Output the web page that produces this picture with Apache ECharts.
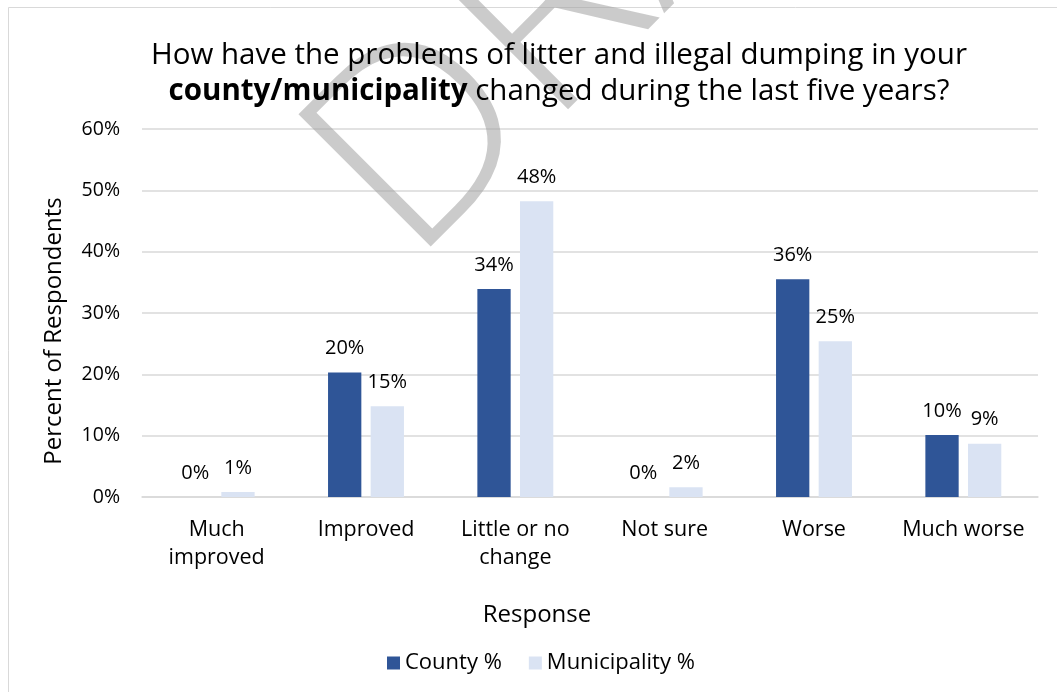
<!DOCTYPE html>
<html>
<head>
<meta charset="utf-8">
<script src="https://cdn.jsdelivr.net/npm/echarts@6/dist/echarts.min.js"></script>
<style>
html,body{margin:0;padding:0;background:#fff;}
#chart{width:1057px;height:692px;}
</style>
</head>
<body>
<div id="chart"></div>
<script>
const categories = ['Much\nimproved', 'Improved', 'Little or no\nchange', 'Not sure', 'Worse', 'Much worse'];
const countyValues = [0, 20.3, 33.9, 0, 35.5, 10.1];
const municipalityValues = [0.8, 14.8, 48.2, 1.6, 25.4, 8.7];
const seriesNames = ['County %', 'Municipality %'];
const yMin = 0, yMax = 60, yInterval = 10;

const FONT = '"Open Sans", "Noto Sans", sans-serif';
const chart = echarts.init(document.getElementById('chart'), null, {renderer: 'canvas'});

const labelCfg = {
  show: true,
  position: 'top',
  distance: 14,
  color: '#000',
  fontFamily: FONT,
  fontSize: 20,
  formatter: p => Math.round(p.value) + '%'
};

chart.setOption({
  backgroundColor: '#fff',
  animation: false,
  title: {
    left: 559,
    top: 38,
    padding: 0,
    textAlign: 'center',
    text: '{n|How have the problems of litter and illegal dumping in your}\n{b|county/municipality}{n| changed during the last five years?}',
    textStyle: {
      fontWeight: 'normal',
      rich: {
        n: {fontFamily: FONT, fontSize: 29.5, color: '#000', fontWeight: 'normal', lineHeight: 36},
        b: {fontFamily: FONT, fontSize: 29.5, color: '#000', fontWeight: 'bold', lineHeight: 36}
      }
    },
    z: 10
  },
  legend: {
    left: 387,
    top: 652,
    padding: 0,
    itemWidth: 13,
    itemHeight: 13,
    itemGap: 27,
    icon: 'rect',
    textStyle: {fontFamily: FONT, fontSize: 22, color: '#000'},
    data: seriesNames
  },
  grid: {left: 142, right: 19, top: 129, bottom: 195, outerBoundsMode: 'none', containLabel: false},
  xAxis: {
    type: 'category',
    data: categories,
    axisLine: {show: true, lineStyle: {color: '#D9D9D9', width: 1.5}},
    axisTick: {show: false},
    axisLabel: {color: '#000', fontFamily: FONT, fontSize: 21.5, lineHeight: 28, margin: 19, interval: 0}
  },
  yAxis: {
    type: 'value',
    min: yMin,
    max: yMax,
    interval: yInterval,
    axisLine: {show: false},
    axisTick: {show: false},
    splitLine: {lineStyle: {color: '#D9D9D9', width: 1.5}},
    axisLabel: {color: '#000', fontFamily: FONT, fontSize: 19.5, margin: 22, formatter: '{value}%'}
  },
  graphic: [
    {
      type: 'rect',
      shape: {x: 8.5, y: 7.5, width: 1100, height: 800},
      style: {fill: 'none', stroke: '#D9D9D9', lineWidth: 1},
      z: 0, silent: true
    },
    {
      type: 'text',
      x: 451, y: 306,
      rotation: Math.PI / 4,
      scaleX: 1.05,
      style: {
        text: 'DRAFT',
        font: '300 262px "Open Sans"',
        fill: 'rgba(160,160,160,0.55)',
        align: 'left',
        verticalAlign: 'bottom'
      },
      z: 1, silent: true
    },
    {
      type: 'text',
      x: 54.5, y: 331,
      rotation: Math.PI / 2,
      style: {
        text: 'Percent of Respondents',
        font: '24px ' + FONT,
        fill: '#000',
        align: 'center',
        verticalAlign: 'middle'
      },
      z: 10, silent: true
    },
    {
      type: 'text',
      x: 537, y: 615,
      style: {
        text: 'Response',
        font: '24px ' + FONT,
        fill: '#000',
        align: 'center',
        verticalAlign: 'middle'
      },
      z: 10, silent: true
    }
  ],
  series: [
    {
      name: seriesNames[0],
      type: 'bar',
      data: countyValues,
      barWidth: '22.3%',
      barGap: '28%',
      itemStyle: {color: '#2F5597'},
      label: labelCfg,
      z: 5
    },
    {
      name: seriesNames[1],
      type: 'bar',
      data: municipalityValues,
      barWidth: '22.3%',
      barGap: '28%',
      itemStyle: {color: '#DAE3F3'},
      label: labelCfg,
      z: 5
    }
  ]
});
</script>
</body>
</html>
